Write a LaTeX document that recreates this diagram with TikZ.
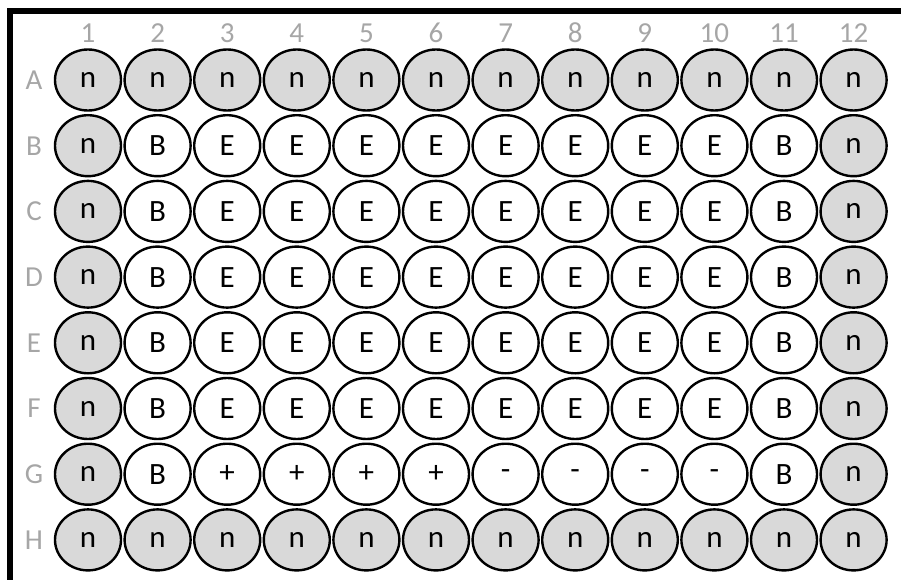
\documentclass[tikz,border=0pt]{standalone}
\usepackage{fontspec}
\setmainfont{Carlito}
\usetikzlibrary{shapes.geometric}

\begin{document}
\begin{tikzpicture}[x=1pt,y=-1pt,
    well/.style={draw, ellipse, line width=2.4pt, minimum width=66pt, minimum height=61pt,
      inner sep=0pt, font=\fontsize{31}{31}\selectfont},
    platelabel/.style={text=black!35, font=\fontsize{29}{29}\selectfont}]
    \useasboundingbox (0,0) rectangle (901,580);

    % plate frame
    \draw[line width=6pt] (9.5,580) -- (9.5,11) -- (901,11);

    % column numbers
    \foreach \c in {1,...,12}
      \node[platelabel] (col\c) at ({88+69.6*(\c-1)},33) {\c};

    % rows: n = not used (grey), B = blank, E = sample, +/- = controls
    \foreach \row/\cells [count=\i] in {
        A/{n,n,n,n,n,n,n,n,n,n,n,n},
        B/{n,B,E,E,E,E,E,E,E,E,B,n},
        C/{n,B,E,E,E,E,E,E,E,E,B,n},
        D/{n,B,E,E,E,E,E,E,E,E,B,n},
        E/{n,B,E,E,E,E,E,E,E,E,B,n},
        F/{n,B,E,E,E,E,E,E,E,E,B,n},
        G/{n,B,+,+,+,+,-,-,-,-,B,n},
        H/{n,n,n,n,n,n,n,n,n,n,n,n}} {
      \node[platelabel] (row\row) at (34,{80+65.7*(\i-1)}) {\row};
      \foreach \t [count=\c] in \cells {
        \if\t n\def\wellfill{black!15}\else\def\wellfill{white}\fi
        \node[well, fill=\wellfill] (\row\c) at ({88+69.6*(\c-1)},{80+65.7*(\i-1)}) {\t};
      }
    }
\end{tikzpicture}
\end{document}
